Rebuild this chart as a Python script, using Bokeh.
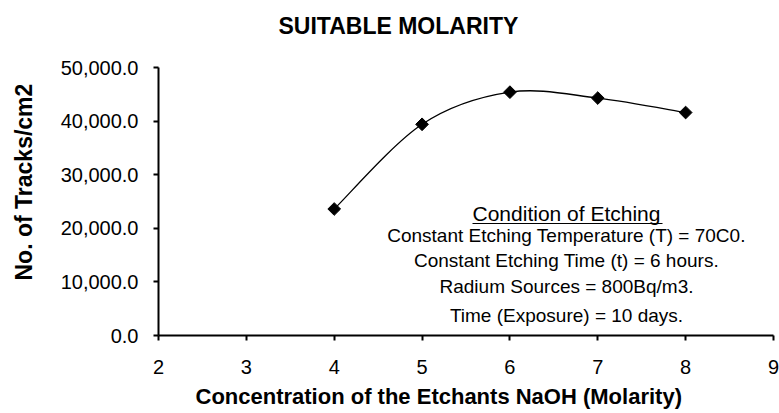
import numpy as np
from bokeh.plotting import figure
from bokeh.models import (Range1d, FixedTicker, NumeralTickFormatter, Label,
                          BoxAnnotation, Title)
from bokeh.embed import file_html
from bokeh.resources import INLINE

# ---- data ----
molarity = [4, 5, 6, 7, 8]
tracks = [23600, 39400, 45400, 44300, 41600]
x_ticks = [2, 3, 4, 5, 6, 7, 8, 9]
y_ticks = [0, 10000, 20000, 30000, 40000, 50000]
title_text = "SUITABLE MOLARITY"
x_title = "Concentration of the Etchants NaOH (Molarity)"
y_title = "No. of Tracks/cm2"
note_heading = "Condition of Etching"
note_lines = [
    "Constant Etching Temperature (T) = 70C0.",
    "Constant Etching Time (t) = 6 hours.",
    "Radium Sources = 800Bq/m3.",
    "Time (Exposure) = 10 days.",
]

FONT = "Liberation Sans"

p = figure(width=779, height=413, title=None,
           x_range=Range1d(2, 9), y_range=Range1d(0, 50000),
           output_backend="svg", toolbar_location=None,
           min_border_left=158, min_border_right=6,
           min_border_top=67, min_border_bottom=78)
p.outline_line_color = None
p.xgrid.grid_line_color = None
p.ygrid.grid_line_color = None
p.background_fill_color = "white"
p.border_fill_color = "white"

for ax in (p.xaxis[0], p.yaxis[0]):
    ax.axis_line_width = 2
    ax.axis_line_color = "black"
    ax.major_tick_line_width = 2
    ax.major_tick_line_color = "black"
    ax.major_tick_out = 5
    ax.major_tick_in = 0
    ax.minor_tick_line_color = None
    ax.major_label_text_font = FONT
    ax.major_label_text_font_size = "20px"
    ax.major_label_text_color = "black"

p.xaxis.ticker = FixedTicker(ticks=x_ticks)
p.yaxis.ticker = FixedTicker(ticks=y_ticks)
p.yaxis.formatter = NumeralTickFormatter(format="0,0.0")
p.yaxis.major_label_standoff = 15
p.xaxis.major_label_standoff = 19

# smoothed line (Catmull-Rom cubic Bezier segments through the data points)
xs = np.array(molarity, dtype=float)
ys = np.array(tracks, dtype=float)
xp = np.concatenate([[xs[0]], xs, [xs[-1]]])
yp = np.concatenate([[ys[0]], ys, [ys[-1]]])
n = len(xs)
cx0 = xp[1:n] + (xp[2:n + 1] - xp[0:n - 1]) / 6
cy0 = yp[1:n] + (yp[2:n + 1] - yp[0:n - 1]) / 6
cx1 = xp[2:n + 1] - (xp[3:n + 2] - xp[1:n]) / 6
cy1 = yp[2:n + 1] - (yp[3:n + 2] - yp[1:n]) / 6
p.bezier(x0=xs[:-1], y0=ys[:-1], x1=xs[1:], y1=ys[1:],
         cx0=cx0, cy0=cy0, cx1=cx1, cy1=cy1,
         line_color="black", line_width=1.3)

p.scatter(molarity, tracks, marker="square", angle=np.pi / 4, size=9,
          fill_color="black", line_color="black")


def spacer(gap):
    # empty title used only to push the real title away from the frame
    return Title(text=" ", text_font_size="1px", standoff=gap)


# titles in side panels
p.add_layout(spacer(26), "above")
p.add_layout(Title(text=title_text, align="left", offset=120, standoff=0,
                   vertical_align="bottom",
                   text_font=FONT, text_font_size="23px",
                   text_font_style="bold", text_color="black"), "above")
p.add_layout(spacer(18), "left")
p.add_layout(Title(text=y_title, align="left", offset=55, standoff=0,
                   vertical_align="bottom",
                   text_font=FONT, text_font_size="23px",
                   text_font_style="bold", text_color="black"), "left")
p.add_layout(Title(text=x_title, align="left", offset=37, standoff=10,
                   text_font=FONT, text_font_size="22px",
                   text_font_style="bold", text_color="black"), "below")

# condition note (screen units, relative to the plot frame)
note_x = 408
note_y = [100, 75, 49, 20]
p.add_layout(Label(x=note_x, y=122, x_units="screen", y_units="screen",
                   text=note_heading, text_font=FONT, text_font_size="21px",
                   text_align="center", text_baseline="alphabetic",
                   text_color="black"))
p.add_layout(BoxAnnotation(left=314, right=504, bottom=111.5, top=112.5,
                           left_units="screen", right_units="screen",
                           bottom_units="screen", top_units="screen",
                           fill_color="black", fill_alpha=1.0,
                           line_color=None))
for txt, yy in zip(note_lines, note_y):
    p.add_layout(Label(x=note_x, y=yy, x_units="screen", y_units="screen",
                       text=txt, text_font=FONT, text_font_size="19px",
                       text_align="center", text_baseline="alphabetic",
                       text_color="black"))

open("out.html", "w").write(file_html(p, INLINE))
